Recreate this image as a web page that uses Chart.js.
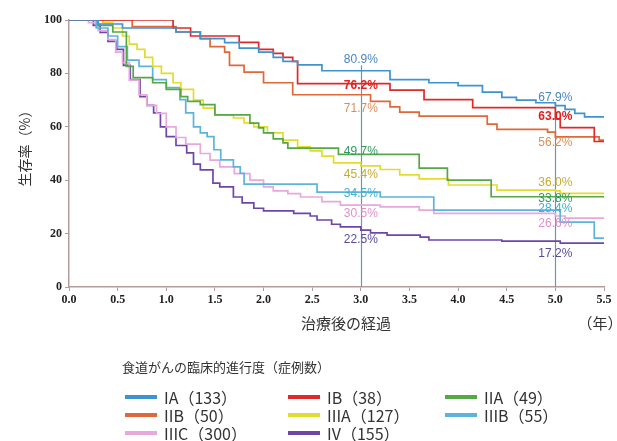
<!DOCTYPE html>
<html><head><meta charset="utf-8">
<script src="https://cdn.jsdelivr.net/npm/chart.js@4"></script>
<style>html,body{margin:0;padding:0;background:#fff}</style>
</head><body>
<canvas id="c" width="617" height="441"></canvas>
<script>
// ---------- data ----------
const categories = ['IA', 'IB', 'IIA', 'IIB', 'IIIA', 'IIIB', 'IIIC', 'IV'];
const counts = [133, 38, 49, 50, 127, 55, 300, 155];

const timeIA = [0, 0.3, 0.55, 1.1, 1.35, 1.6, 1.75, 1.95, 2.1, 2.2, 2.35, 2.6, 3.3, 3.7, 4.0, 4.25, 4.45, 4.6, 4.8, 5.0, 5.1, 5.2, 5.3, 5.5];
const survIA = [100, 98.5, 97, 95.5, 93, 91.5, 89.5, 88, 86, 84.5, 83.2, 81, 77.7, 76.5, 75.4, 73, 71, 70, 69, 67.9, 66.5, 65, 63.7, 63.7];

const timeIB = [0, 1.07, 1.25, 1.75, 1.95, 2.1, 2.2, 2.3, 2.35, 3.3, 3.65, 4.15, 5.0, 5.05, 5.4, 5.5];
const survIB = [100, 97, 94, 91.6, 89, 87.5, 86, 84.5, 76.2, 73.7, 70.2, 67.2, 63.0, 59.7, 54.5, 54.5];

const timeIIA = [0, 0.3, 0.45, 0.59, 0.66, 0.86, 1.0, 1.15, 1.22, 1.35, 1.5, 1.86, 1.95, 2.0, 2.1, 2.2, 2.25, 2.77, 3.6, 3.89, 4.34, 5.5];
const survIIA = [100, 98, 95.5, 82.6, 78.4, 76.5, 74, 71.3, 69.5, 68.3, 64.5, 61.4, 59.6, 57.7, 55.5, 54, 52, 49.7, 44.5, 40, 33.8, 33.8];

const timeIIB = [0, 0.65, 1.1, 1.35, 1.45, 1.6, 1.65, 1.8, 2.0, 2.3, 3.1, 3.3, 3.4, 3.6, 4.3, 4.4, 4.92, 5.0, 5.45, 5.5];
const survIIB = [100, 97.5, 95.5, 93, 90, 88, 83, 80.5, 76.5, 72, 69.5, 67.5, 65.5, 64, 61, 59, 58, 56.2, 55, 55];

const timeIIIA = [0, 0.35, 0.45, 0.55, 0.62, 0.7, 0.78, 0.86, 0.95, 1.07, 1.15, 1.28, 1.38, 1.5, 1.69, 1.8, 1.9, 2.04, 2.2, 2.35, 2.48, 2.6, 2.72, 3.0, 3.2, 3.4, 3.6, 3.9, 4.4, 5.0, 5.05, 5.5];
const survIIIA = [100, 99, 97, 94, 91, 89, 86, 82.6, 80, 76.5, 74, 70, 67, 64.5, 63.3, 61.5, 60, 57.7, 55, 52.5, 51, 49, 46.5, 45.4, 44, 42, 40.5, 38.2, 36.3, 36.0, 35.1, 35.1];

const timeIIIB = [0, 0.28, 0.4, 0.5, 0.6, 0.72, 0.86, 1.0, 1.14, 1.2, 1.28, 1.35, 1.42, 1.49, 1.56, 1.69, 1.76, 1.8, 2.55, 3.2, 3.75, 5.05, 5.4, 5.5];
const survIIIB = [100, 97, 94, 90, 85, 82.6, 77.7, 74.7, 70.2, 65.2, 60, 57.7, 56.3, 51.4, 47.6, 45, 42.6, 38.5, 35.5, 33.7, 28.8, 24.3, 18.3, 18.3];

const timeIIIC = [0, 0.2, 0.3, 0.4, 0.48, 0.55, 0.62, 0.72, 0.8, 0.9, 1.0, 1.1, 1.2, 1.35, 1.45, 1.55, 1.7, 1.86, 2.0, 2.1, 2.25, 2.38, 2.6, 2.79, 3.2, 3.6, 3.75, 5.0, 5.1, 5.5];
const survIIIC = [100, 99, 96, 92.7, 88, 84, 77.5, 72, 68, 65, 60, 56, 53.5, 50, 47.5, 45, 42.5, 40, 37.5, 36, 35, 33.7, 32, 30.7, 30, 28.8, 27.6, 26.6, 25.8, 25.8];

const timeIV = [0, 0.25, 0.32, 0.4, 0.49, 0.56, 0.63, 0.73, 0.8, 0.87, 0.94, 1.0, 1.1, 1.21, 1.28, 1.35, 1.48, 1.55, 1.69, 1.78, 1.9, 2.0, 2.31, 2.48, 2.55, 2.7, 2.79, 3.0, 3.1, 3.27, 3.61, 3.7, 4.45, 5.0, 5.05, 5.5];
const survIV = [100, 98, 95.4, 92, 89, 83, 77.7, 71.3, 68, 65.2, 60, 56.3, 53, 50.2, 46, 43.9, 38.9, 37.5, 33.7, 31.5, 29.5, 28.5, 27.6, 26.6, 25.1, 23.5, 22.5, 21.3, 20.3, 19.4, 18.7, 17.6, 17.2, 17.2, 16.4, 16.4];

const seriesTimes = [timeIA, timeIB, timeIIA, timeIIB, timeIIIA, timeIIIB, timeIIIC, timeIV];
const seriesSurv = [survIA, survIB, survIIA, survIIB, survIIIA, survIIIB, survIIIC, survIV];

// survival rates printed at 3 and 5 years
const markYears = [3, 5];
const rate3 = [80.9, 76.2, 49.7, 71.7, 45.4, 34.5, 30.5, 22.5];
const rate5 = [67.9, 63.0, 33.8, 56.2, 36.0, 28.4, 26.6, 17.2];

const xTickValues = [0, 0.5, 1, 1.5, 2, 2.5, 3, 3.5, 4, 4.5, 5, 5.5];
const yTickValues = [0, 20, 40, 60, 80, 100];

// ---------- style ----------
const lineColors = ['#3f93d0', '#e02a2a', '#55a845', '#de6838', '#e2dc2e', '#5cb4dc', '#e8a8dc', '#6e46aa'];
const textColors = ['#4a86c0', '#e02020', '#2f9a60', '#d9905a', '#c8aa32', '#3fb0d0', '#e090c8', '#5a4a9a'];
const label3Y = [85.2, 75.5, 50.6, 66.8, 42.0, 35.1, 27.6, 17.6];
const label5Y = [70.9, 63.7, 32.9, 53.9, 38.9, 29.2, 23.6, 12.6];
const markTop = [83, 69];

const datasets = categories.map((c, i) => ({
  label: c,
  data: seriesTimes[i].map((t, k) => ({x: t, y: seriesSurv[i][k]})),
  borderColor: lineColors[i],
  borderWidth: 1.7,
  pointRadius: 0,
  stepped: true,
  fill: false
}));

const axisColor = '#b59c9c';
const tickFont = {family: '"Liberation Serif", serif', size: 12, weight: 'bold'};
const cjk = '"Noto Sans CJK JP", "Noto Sans", sans-serif';

const overlay = {
  id: 'overlay',
  beforeDatasetsDraw(chart) {
    const {ctx, scales: {x, y}} = chart;
    ctx.save();
    ctx.strokeStyle = '#6a94b8';
    ctx.lineWidth = 1.2;
    markYears.forEach((yr, j) => {
      const px = Math.round(x.getPixelForValue(yr)) + 0.5;
      ctx.beginPath();
      ctx.moveTo(px, y.getPixelForValue(0));
      ctx.lineTo(px, y.getPixelForValue(markTop[j]));
      ctx.stroke();
    });
    ctx.restore();
  },
  afterDraw(chart) {
    const {ctx, scales: {x, y}} = chart;
    ctx.save();
    // percentage labels
    ctx.textAlign = 'center';
    ctx.textBaseline = 'middle';
    [rate3, rate5].forEach((rates, j) => {
      const pos = j === 0 ? label3Y : label5Y;
      const px = x.getPixelForValue(markYears[j]);
      rates.forEach((r, i) => {
        ctx.font = (i === 1 ? 'bold ' : '') + '12px "Liberation Sans", Arial, sans-serif';
        ctx.fillStyle = textColors[i];
        ctx.fillText(r.toFixed(1) + '%', px, y.getPixelForValue(pos[i]));
      });
    });
    // axis titles
    ctx.fillStyle = '#333';
    ctx.font = '14px ' + cjk;
    ctx.save();
    ctx.translate(25, 145);
    ctx.rotate(-Math.PI / 2);
    ctx.fillText('生存率（%）', 0, 0);
    ctx.restore();
    ctx.font = '15px ' + cjk;
    ctx.fillText('治療後の経過', 346, 323);
    ctx.fillText('（年）', 600, 323);
    // legend
    ctx.textAlign = 'left';
    ctx.font = '13px ' + cjk;
    ctx.fillText('食道がんの臨床的進行度（症例数）', 122, 367);
    const colX = [125, 288, 445];
    const rowY = [397, 415, 433];
    ctx.font = '16px ' + cjk;
    categories.forEach((c, i) => {
      const cx = colX[i % 3], cy = rowY[Math.floor(i / 3)];
      ctx.fillStyle = lineColors[i];
      ctx.fillRect(cx, cy - 2, 32, 4);
      ctx.fillStyle = '#333';
      ctx.fillText(c + '（' + counts[i] + '）', cx + 39, cy + 1);
    });
    ctx.restore();
  }
};

new Chart(document.getElementById('c'), {
  type: 'line',
  data: {datasets},
  options: {
    responsive: false,
    animation: false,
    devicePixelRatio: 1,
    layout: {padding: {left: 0, top: 20, right: 13, bottom: 132}},
    plugins: {legend: {display: false}, tooltip: {enabled: false}},
    scales: {
      x: {
        type: 'linear', min: 0, max: 5.5,
        afterBuildTicks: s => { s.ticks = xTickValues.map(v => ({value: v})); },
        afterFit: s => { s.height = 22; },
        ticks: {callback: v => Number(v).toFixed(1), font: tickFont, color: '#222', padding: 2, maxRotation: 0, autoSkip: false},
        grid: {drawOnChartArea: false, drawTicks: true, tickLength: 4, color: axisColor},
        border: {color: axisColor, width: 1.5}
      },
      y: {
        type: 'linear', min: 0, max: 100,
        afterBuildTicks: s => { s.ticks = yTickValues.map(v => ({value: v})); },
        afterFit: s => { s.width = 69; },
        ticks: {font: tickFont, color: '#222', padding: 3},
        grid: {drawOnChartArea: false, drawTicks: true, tickLength: 4, color: axisColor},
        border: {color: axisColor, width: 1.5}
      }
    }
  },
  plugins: [overlay]
});
</script>
</body></html>
